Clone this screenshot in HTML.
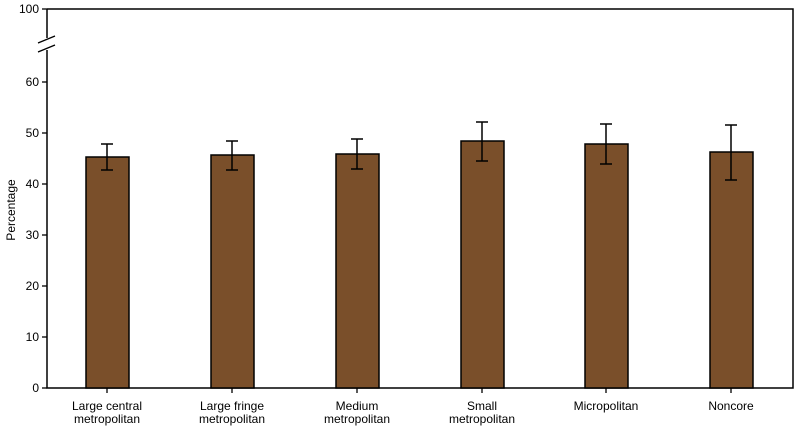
<!DOCTYPE html>
<html><head><style>body{margin:0;background:#fff}svg{display:block}text{font-family:"Liberation Sans",sans-serif;font-size:12px;fill:#000}</style></head><body>
<svg width="799" height="427" viewBox="0 0 799 427">
<rect x="0" y="0" width="799" height="427" fill="#fff"/>
<polyline points="47,9 793,9 793,388 47,388 47,9" fill="none" stroke="#000" stroke-width="1.5"/>
<rect x="40" y="38" width="14" height="12" fill="#fff"/>
<line x1="38" y1="43" x2="55" y2="36" stroke="#000" stroke-width="1.3"/>
<line x1="38" y1="52" x2="55" y2="45" stroke="#000" stroke-width="1.3"/>
<g stroke="#000" stroke-width="1.3">
<line x1="42" y1="9" x2="47" y2="9"/><line x1="42" y1="82" x2="47" y2="82"/><line x1="42" y1="133" x2="47" y2="133"/><line x1="42" y1="184" x2="47" y2="184"/><line x1="42" y1="235" x2="47" y2="235"/><line x1="42" y1="286" x2="47" y2="286"/><line x1="42" y1="337" x2="47" y2="337"/><line x1="42" y1="388" x2="47" y2="388"/>
<line x1="107" y1="388" x2="107" y2="393"/><line x1="232" y1="388" x2="232" y2="393"/><line x1="357" y1="388" x2="357" y2="393"/><line x1="482" y1="388" x2="482" y2="393"/><line x1="606" y1="388" x2="606" y2="393"/><line x1="731" y1="388" x2="731" y2="393"/>
</g>
<g text-anchor="end">
<text x="39" y="13">100</text><text x="39" y="86">60</text><text x="39" y="137">50</text><text x="39" y="188">40</text><text x="39" y="239">30</text><text x="39" y="290">20</text><text x="39" y="341">10</text><text x="39" y="392">0</text>
</g>
<text transform="translate(15,210) rotate(-90)" text-anchor="middle">Percentage</text>
<g fill="#7a4f2a" stroke="#000" stroke-width="1.5">
<rect x="86" y="157" width="43" height="231"/>
<rect x="211" y="155" width="43" height="233"/>
<rect x="336" y="154" width="43" height="234"/>
<rect x="461" y="141" width="43" height="247"/>
<rect x="585" y="144" width="43" height="244"/>
<rect x="710" y="152" width="43" height="236"/>
</g>
<g stroke="#000" stroke-width="1.5" fill="none">
<path d="M107,170V144M101,144H113M101,170H113"/>
<path d="M232,170V141M226,141H238M226,170H238"/>
<path d="M357,169V139M351,139H363M351,169H363"/>
<path d="M482,161V122M476,122H488M476,161H488"/>
<path d="M606,164V124M600,124H612M600,164H612"/>
<path d="M731,180V125M725,125H737M725,180H737"/>
</g>
<g text-anchor="middle">
<text x="107" y="410">Large central</text><text x="107" y="423">metropolitan</text>
<text x="232" y="410">Large fringe</text><text x="232" y="423">metropolitan</text>
<text x="357" y="410">Medium</text><text x="357" y="423">metropolitan</text>
<text x="482" y="410">Small</text><text x="482" y="423">metropolitan</text>
<text x="606" y="410">Micropolitan</text>
<text x="731" y="410">Noncore</text>
</g>
</svg>
</body></html>
